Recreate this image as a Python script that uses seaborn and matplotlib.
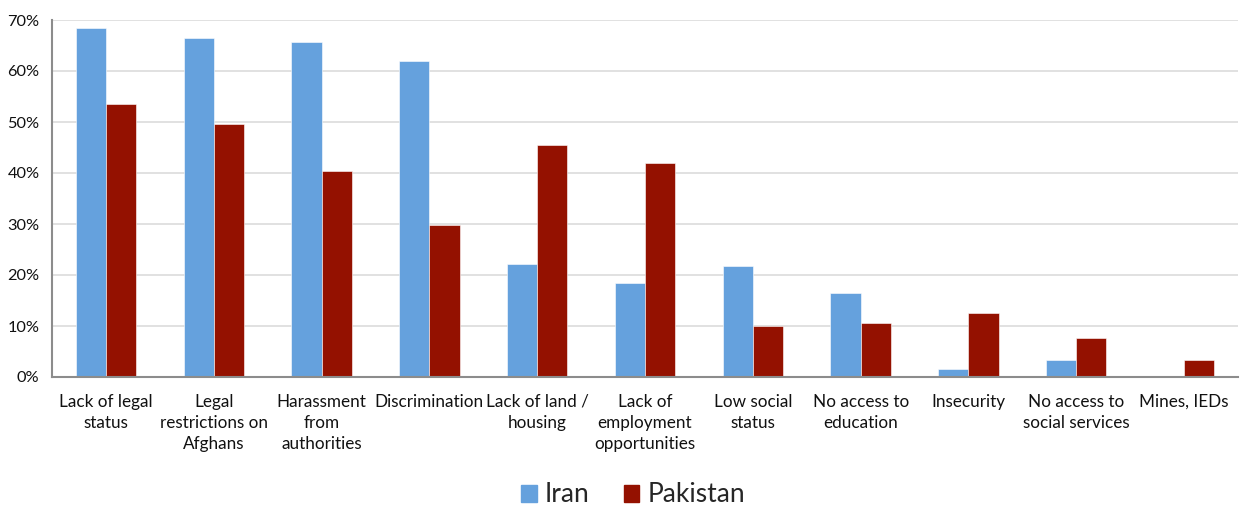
import numpy as np
import pandas as pd
import matplotlib
matplotlib.use("Agg")
import matplotlib.pyplot as plt
from matplotlib.ticker import FixedLocator, PercentFormatter
import seaborn as sns

categories = [
    "Lack of legal\nstatus",
    "Legal\nrestrictions on\nAfghans",
    "Harassment\nfrom\nauthorities",
    "Discrimination",
    "Lack of land /\nhousing",
    "Lack of\nemployment\nopportunities",
    "Low social\nstatus",
    "No access to\neducation",
    "Insecurity",
    "No access to\nsocial services",
    "Mines, IEDs",
]
iran = [68.4, 66.5, 65.7, 62.0, 22.2, 18.4, 21.8, 16.5, 1.6, 3.3, 0.0]
pakistan = [53.5, 49.6, 40.4, 29.8, 45.5, 42.0, 10.0, 10.6, 12.5, 7.6, 3.3]
series = ["Iran", "Pakistan"]
colors = ["#65A1DD", "#941100"]

df = pd.DataFrame({
    "Problem": categories * 2,
    "Country": [series[0]] * len(categories) + [series[1]] * len(categories),
    "Share": iran + pakistan,
})

sns.set_theme(style="white")
plt.rcParams["font.family"] = ["Lato", "DejaVu Sans"]

fig = plt.figure(figsize=(12.41, 5.07), dpi=100)
ax = fig.add_axes([52 / 1241, 1 - 377 / 507, (1238 - 52) / 1241, (377 - 20) / 507])

sns.barplot(
    data=df, x="Problem", y="Share", hue="Country",
    palette=colors, width=0.56, ax=ax,
    edgecolor="#ffffff", linewidth=0.4, saturation=1,
)

ax.set_ylim(0, 70)
ax.set_xlim(-0.5, len(categories) - 0.5)
ax.set_yticks(np.arange(0, 71, 10))
ax.yaxis.set_major_formatter(PercentFormatter(decimals=0))
ax.yaxis.grid(True, color="#dcdcdc", linewidth=1.2)
ax.set_axisbelow(True)

ax.set_xlabel("")
ax.set_ylabel("")
ax.tick_params(axis="x", which="major", length=0, pad=12, labelsize=12.3, colors="#111111")
ax.xaxis.set_minor_locator(FixedLocator(np.arange(-0.5, len(categories), 1.0)))
ax.tick_params(axis="x", which="minor", length=6, width=1.2, color="#8c8c8c", direction="out")
ax.tick_params(axis="y", length=5, width=1.2, color="#8c8c8c", direction="out",
               labelsize=11.8, pad=4)
ax.tick_params(axis="y", colors="#8c8c8c", labelcolor="#111111")
for lbl in ax.get_xticklabels():
    lbl.set_linespacing(1.4)
    lbl.set_verticalalignment("top")

for side in ["top", "right"]:
    ax.spines[side].set_visible(False)
for side in ["left", "bottom"]:
    ax.spines[side].set_color("#8c8c8c")
    ax.spines[side].set_linewidth(1.5)

ax.legend_.remove()
handles = [plt.Rectangle((0, 0), 1, 1, color=c) for c in colors]
fig.legend(handles, series, loc="center", bbox_to_anchor=(0.51, 1 - 495 / 507),
           ncol=2, frameon=False, fontsize=19, handlelength=0.6, handleheight=0.6,
           handletextpad=0.3, columnspacing=1.3)

fig.savefig("out.png", dpi=100)
